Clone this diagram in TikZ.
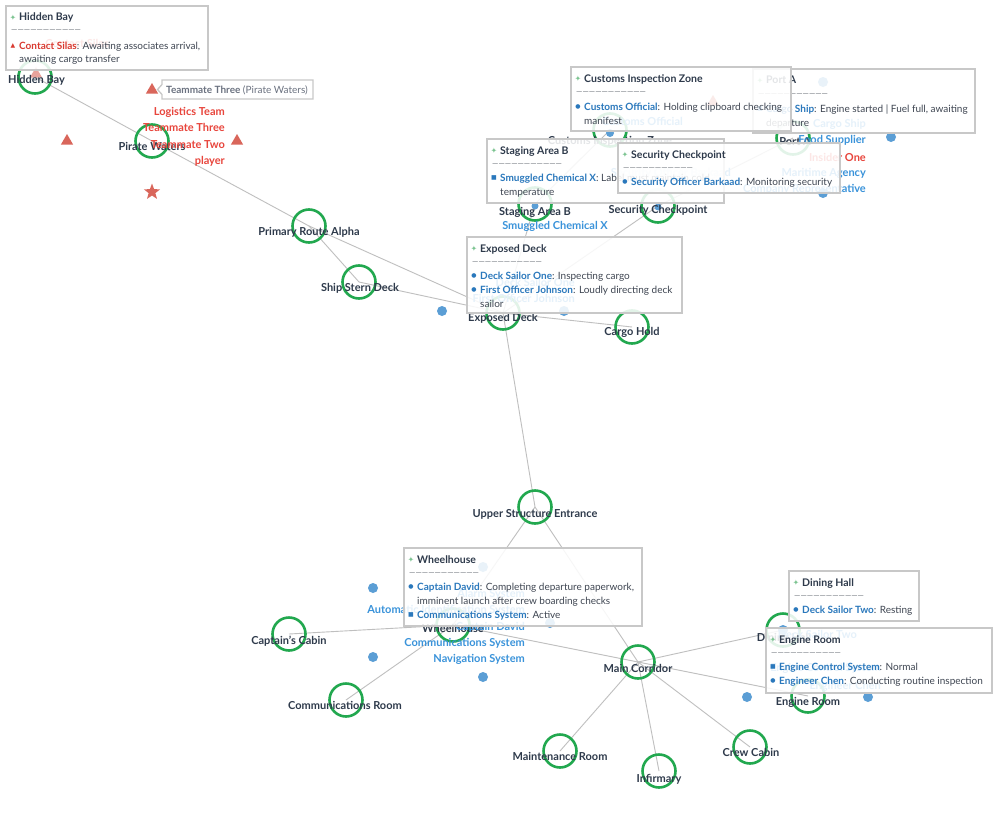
\documentclass[tikz,border=0pt]{standalone}
\usepackage{fontspec}
\setmainfont{Lato}
\newfontfamily\symf{DejaVu Sans}
\usetikzlibrary{shapes.geometric,backgrounds}
\definecolor{ringgreen}{HTML}{22A84F}
\definecolor{edgegray}{HTML}{BFBFBF}
\definecolor{labdark}{HTML}{2E3A4B}
\definecolor{perblue}{HTML}{3A93DA}
\definecolor{perred}{HTML}{E8453C}
\definecolor{tipblue}{HTML}{2A78BC}
\definecolor{tipred}{HTML}{D93A30}
\definecolor{tiptext}{HTML}{3F4652}
\definecolor{tipborder}{HTML}{C8C8C8}
\definecolor{dotblue}{HTML}{5B9ED5}
\definecolor{markred}{HTML}{D9665B}
\definecolor{tipgreen}{HTML}{7CC491}
\definecolor{dashgray}{HTML}{70757C}
\definecolor{hintgray}{HTML}{6B7280}
\newcommand\tipbox[6]{%
  \path[tipframe] (#2,#3) rectangle (#4,#5);
  \node[bul,text=tipgreen,font=\symf\fontsize{7.5}{8}\selectfont] (#1s) at (#2+7,#3+11.5) {✦};
  \node[tiptitle] (#1t) at (#2+13,#3+15) {#6};
  \node[tipdash] (#1d) at (#2+5,#3+27) {---------------------------------};
}
\newcommand\tipline[4]{\node[tipbody] (#1) at (#2+13,#3+3.5) {#4};}
\newcommand\tipbul[5]{\node[bul,text=#5] (#1) at (#2+7,#3) {#4};}
\begin{document}
\begin{tikzpicture}[x=1pt,y=-1pt,
  place/.style={circle, draw=ringgreen, line width=2.6pt, minimum size=33pt, inner sep=0pt},
  lbl/.style={font=\bfseries\fontsize{11}{13}\selectfont, text=labdark, inner sep=0pt, anchor=base},
  per/.style={font=\bfseries\fontsize{11}{13}\selectfont, inner sep=0pt, anchor=base east},
  edge/.style={draw=edgegray, line width=0.9pt},
  dot/.style={circle, fill=dotblue, minimum size=10pt, inner sep=0pt},
  tri/.style={regular polygon, regular polygon sides=3, fill=markred, minimum size=14pt, inner sep=0pt},
  tipframe/.style={draw=tipborder, line width=1.3pt, fill=white, fill opacity=0.87},
  tiptitle/.style={font=\bfseries\fontsize{10.5}{12}\selectfont, text=labdark, inner sep=0pt, anchor=base west},
  tipbody/.style={font=\fontsize{10}{12}\selectfont, text=tiptext, inner sep=0pt, anchor=base west},
  tipdash/.style={font=\fontsize{8}{9}\selectfont, text=dashgray, inner sep=0pt, anchor=base west},
  bul/.style={font=\symf\fontsize{6}{6}\selectfont, inner sep=0pt}
]
\useasboundingbox (0,0) rectangle (998,816);

% places
\node[place] (hb) at (35,77) {};
\node[place] (pw) at (152,141) {};
\node[place] (pra) at (309,226) {};
\node[place] (ssd) at (359,282) {};
\node[place] (ed) at (503,313) {};
\node[place] (ch) at (632,327) {};
\node[place] (sab) at (535,204) {};
\node[place] (sc) at (658,206) {};
\node[place] (ciz) at (610,130) {};
\node[place] (pa) at (793,138) {};
\node[place] (use) at (535,507) {};
\node[place] (wh) at (453,625) {};
\node[place] (cc) at (289,634) {};
\node[place] (cr) at (346,700) {};
\node[place] (mc) at (638,662) {};
\node[place] (dh) at (783,630) {};
\node[place] (er) at (808,696) {};
\node[place] (mr) at (560,751) {};
\node[place] (inf) at (659,771) {};
\node[place] (crc) at (750,747) {};

\begin{scope}[on background layer]
\fill[white] (0,0) rectangle (998,816);
\draw[edge] (hb.center) -- (pw.center);
\draw[edge] (pw.center) -- (pra.center);
\draw[edge] (pra.center) -- (ed.center);
\draw[edge] (pra.center) -- (ssd.center);
\draw[edge] (ssd.center) -- (ed.center);
\draw[edge] (ed.center) -- (ch.center);
\draw[edge] (ed.center) -- (sab.center);
\draw[edge] (sab.center) -- (ciz.center);
\draw[edge] (ed.center) -- (sc.center);
\draw[edge] (sc.center) -- (pa.center);
\draw[edge] (ed.center) -- (use.center);
\draw[edge] (use.center) -- (wh.center);
\draw[edge] (use.center) -- (mc.center);
\draw[edge] (wh.center) -- (cc.center);
\draw[edge] (wh.center) -- (cr.center);
\draw[edge] (wh.center) -- (mc.center);
\draw[edge] (mc.center) -- (dh.center);
\draw[edge] (mc.center) -- (er.center);
\draw[edge] (mc.center) -- (mr.center);
\draw[edge] (mc.center) -- (inf.center);
\draw[edge] (mc.center) -- (crc.center);
\end{scope}

% dots
\node[dot] (d1) at (442,311) {};
\node[dot] (d2) at (564,311) {};
\node[dot, minimum size=7pt] (d3) at (535,206) {};
\node[dot, minimum size=7pt] (d4) at (658,207) {};
\node[dot, minimum size=8pt] (d5) at (610,133) {};
\node[dot] (d6) at (823,82) {};
\node[dot] (d7) at (891,137) {};
\node[dot] (d8) at (823,193) {};
\node[dot] (d9) at (373,588) {};
\node[dot] (d10) at (373,657) {};
\node[dot] (d11) at (483,677) {};
\node[dot] (d12) at (483,567) {};
\node[dot] (d13) at (550,623) {};
\node[dot] (d14) at (747,697) {};
\node[dot] (d15) at (868,697) {};
\node[dot] (d16) at (783,630) {};

% red markers
\node[tri] (t1) at (152,90) {};
\node[tri] (t2) at (67,141) {};
\node[tri] (t3) at (237,141) {};
\node[tri, opacity=0.6] (t4) at (36,74) {};
\node[tri] (t5) at (713,102) {};
\node[star, star points=5, star point ratio=2.4, fill=markred, minimum size=17pt, inner sep=0pt] (st) at (152,192) {};

% node labels
\node[lbl] (hbL) at (36.5,83) {Hidden Bay};
\node[lbl] (pwL) at (152,150) {Pirate Waters};
\node[lbl] (praL) at (309,235) {Primary Route Alpha};
\node[lbl] (ssdL) at (360,291) {Ship Stern Deck};
\node[lbl] (edL) at (503,321) {Exposed Deck};
\node[lbl] (chL) at (632,335) {Cargo Hold};
\node[lbl] (sabL) at (535,215) {Staging Area B};
\node[lbl] (scL) at (658,213) {Security Checkpoint};
\node[lbl] (cizL) at (610,144) {Customs Inspection Zone};
\node[lbl] (paL) at (795,145) {Port A};
\node[lbl] (useL) at (535,517) {Upper Structure Entrance};
\node[lbl] (whL) at (453,632) {Wheelhouse};
\node[lbl] (ccL) at (289,644) {Captain's Cabin};
\node[lbl] (crL) at (345,709) {Communications Room};
\node[lbl] (mcL) at (638,672) {Main Corridor};
\node[lbl] (dhL) at (784,641) {Dining Hall};
\node[lbl] (erL) at (808,705) {Engine Room};
\node[lbl] (mrL) at (560,760) {Maintenance Room};
\node[lbl] (infL) at (659,782) {Infirmary};
\node[lbl] (crcL) at (751,756) {Crew Cabin};

% persona labels
\node[per, text=perred] (p1) at (225,115) {Logistics Team};
\node[per, text=perred] (p2) at (225,131) {Teammate Three};
\node[per, text=perred] (p3) at (225,148) {Teammate Two};
\node[per, text=perred] (p4) at (225,164) {player};
\node[per, text=perred] (p5) at (109,48) {Contact Silas};
\node[per, text=perblue] (p6) at (608,229) {Smuggled Chemical X};
\node[per, text=perblue] (p7) at (575,286) {Deck Sailor One};
\node[per, text=perblue] (p8) at (575,302) {First Officer Johnson};
\node[per, text=perblue] (p9) at (683,125) {Customs Official};
\node[per, text=perblue] (p10) at (731,176) {Security Officer Barkaad};
\node[per, text=perblue] (p11) at (866,127) {Cargo Ship};
\node[per, text=perblue] (p12) at (866,143) {Food Supplier};
\node[per, text=perred] (p13) at (866,161) {Insider One};
\node[per, text=perblue] (p14) at (866,176) {Maritime Agency};
\node[per, text=perblue] (p15) at (866,192) {Company Representative};
\node[per, text=perblue] (p16) at (525,597) {Alarm System};
\node[per, text=perblue] (p17) at (525,613) {Automatic Identification System};
\node[per, text=perblue] (p18) at (525,630) {Captain David};
\node[per, text=perblue] (p19) at (525,646) {Communications System};
\node[per, text=perblue] (p20) at (525,662) {Navigation System};
\node[per, text=perblue] (p21) at (857,638) {Deck Sailor Two};
\node[per, text=perblue] (p22) at (881,671) {Engine Control System};
\node[per, text=perblue] (p23) at (881,689) {Engineer Chen};

% tooltips
\tipbox{tpa}{753}{69}{975}{133}{Port A}
\tipbul{tpab}{753}{108.5}{■}{tipblue}
\tipline{tpa1}{753}{108.5}{\textcolor{tipblue}{\bfseries Cargo Ship}: Engine started | Fuel full, awaiting}
\tipline{tpa2}{753}{122.5}{departure}

\tipbox{tciz}{571}{67}{791}{131}{Customs Inspection Zone}
\tipbul{tcizb}{571}{106.5}{●}{tipblue}
\tipline{tciz1}{571}{106.5}{\textcolor{tipblue}{\bfseries Customs Official}: Holding clipboard checking}
\tipline{tciz2}{571}{120.5}{manifest}

\tipbox{tsab}{487}{139}{724}{203}{Staging Area B}
\tipbul{tsabb}{487}{177.5}{■}{tipblue}
\tipline{tsab1}{487}{177.5}{\textcolor{tipblue}{\bfseries Smuggled Chemical X}: Label must maintain cold}
\tipline{tsab2}{487}{191.5}{temperature}

\tipbox{tsc}{618}{143}{840}{193}{Security Checkpoint}
\tipbul{tscb}{618}{181.5}{●}{tipblue}
\tipline{tsc1}{618}{181.5}{\textcolor{tipblue}{\bfseries Security Officer Barkaad}: Monitoring security}

\tipbox{ted}{467}{237}{682}{313}{Exposed Deck}
\tipbul{tedb1}{467}{275.5}{●}{tipblue}
\tipline{ted1}{467}{275.5}{\textcolor{tipblue}{\bfseries Deck Sailor One}: Inspecting cargo}
\tipbul{tedb2}{467}{289.5}{●}{tipblue}
\tipline{ted2}{467}{289.5}{\textcolor{tipblue}{\bfseries First Officer Johnson}: Loudly directing deck}
\tipline{ted3}{467}{303.5}{sailor}

\tipbox{thb}{6}{6}{208}{70}{Hidden Bay}
\tipbul{thbb}{6}{45.5}{▲}{tipred}
\tipline{thb1}{6}{45.5}{\textcolor{tipred}{\bfseries Contact Silas}: Awaiting associates arrival,}
\tipline{thb2}{6}{59.5}{awaiting cargo transfer}

\path[tipframe] (162,80) -- (313,80) -- (313,99) -- (162,99) -- (162,94.5) -- (157.5,89.5) -- (162,84.5) -- cycle;
\node[tipbody, text=hintgray] (tt) at (166,93.5) {\textbf{Teammate Three} (Pirate Waters)};

\tipbox{twh}{404}{548}{642}{626}{Wheelhouse}
\tipbul{twhb1}{404}{587}{●}{tipblue}
\tipline{twh1}{404}{587}{\textcolor{tipblue}{\bfseries Captain David}: Completing departure paperwork,}
\tipline{twh2}{404}{601}{imminent launch after crew boarding checks}
\tipbul{twhb2}{404}{615}{■}{tipblue}
\tipline{twh3}{404}{615}{\textcolor{tipblue}{\bfseries Communications System}: Active}

\tipbox{tdh}{789}{571}{919}{621}{Dining Hall}
\tipbul{tdhb}{789}{610}{●}{tipblue}
\tipline{tdh1}{789}{610}{\textcolor{tipblue}{\bfseries Deck Sailor Two}: Resting}

\tipbox{ter}{766}{628}{992}{693}{Engine Room}
\tipbul{terb1}{766}{667}{■}{tipblue}
\tipline{ter1}{766}{667}{\textcolor{tipblue}{\bfseries Engine Control System}: Normal}
\tipbul{terb2}{766}{681}{●}{tipblue}
\tipline{ter2}{766}{681}{\textcolor{tipblue}{\bfseries Engineer Chen}: Conducting routine inspection}
\end{tikzpicture}
\end{document}
